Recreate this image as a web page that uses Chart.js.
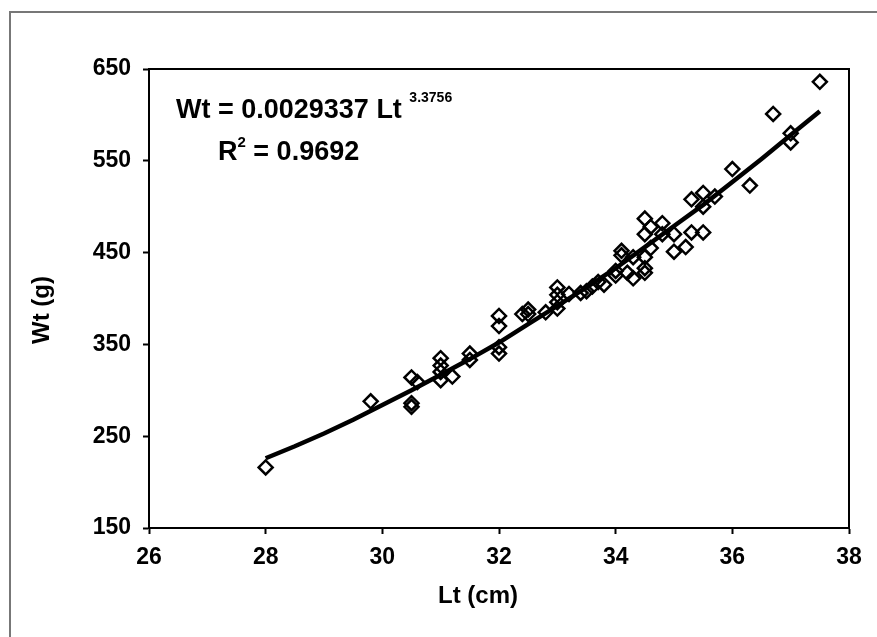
<!DOCTYPE html>
<html>
<head>
<meta charset="utf-8">
<script src="https://cdn.jsdelivr.net/npm/chart.js@4/dist/chart.umd.min.js"></script>
<style>
    html, body { margin: 0; padding: 0; background: #fff; }
    #wrap { position: relative; width: 877px; height: 637px; overflow: hidden; }
    #frame { position: absolute; left: 9px; top: 11px; width: 900px; height: 700px;
             border-left: 2px solid #777; border-top: 2px solid #777; }
    canvas { position: absolute; left: 0; top: 0; }
</style>
</head>
<body>
<div id="wrap">
    <div id="frame"></div>
    <canvas id="lwChart" width="877" height="637"></canvas>
</div>
<script>
// Observed length (cm) and weight (g)
const ltValues = [28.0, 29.8, 30.5, 30.5, 30.5, 30.6, 31.0, 31.0, 31.0, 31.0, 31.2,
    31.5, 31.5, 32.0, 32.0, 32.0, 32.0, 32.4, 32.5, 32.5, 32.8, 33.0, 33.0, 33.0, 33.0,
    33.2, 33.4, 33.5, 33.6, 33.7, 33.8, 34.0, 34.0, 34.1, 34.1, 34.2, 34.3, 34.3,
    34.5, 34.5, 34.5, 34.5, 34.5, 34.6, 34.6, 34.8, 34.8, 35.0, 35.0, 35.2, 35.3, 35.3,
    35.5, 35.5, 35.5, 35.7, 36.0, 36.3, 36.7, 37.0, 37.0, 37.5];
const wtValues = [216, 288, 314, 286, 282, 309, 335, 327, 320, 311, 315,
    340, 333, 381, 370, 347, 340, 383, 388, 383, 385, 412, 404, 396, 389,
    405, 406, 408, 413, 418, 415, 430, 425, 452, 447, 428, 445, 422,
    487, 470, 445, 433, 428, 478, 455, 482, 470, 470, 451, 456, 508, 472,
    515, 500, 472, 511, 541, 523, 601, 580, 570, 636];

// Power trend line Wt = 0.0029337 Lt^3.3756
const trendLt = [28, 28.5, 29, 29.5, 30, 30.5, 31, 31.5, 32, 32.5, 33, 33.5, 34, 34.5,
    35, 35.5, 36, 36.5, 37, 37.5];
const trendWt = [226, 239, 253, 268, 284, 300, 317, 334, 352, 372, 392, 412, 433, 456,
    479, 502, 527, 552, 578, 604];

const xMin = 26, xMax = 38, xStep = 2;
const yMin = 150, yMax = 650, yStep = 100;

const FONT = '"Liberation Sans", Arial, sans-serif';

// Titles, equation and plot box
const decorPlugin = {
    id: 'decor',
    beforeDatasetsDraw(chart) {
        const ctx = chart.ctx;
        const a = chart.chartArea;
        ctx.save();
        ctx.strokeStyle = '#000';
        ctx.lineWidth = 2;
        ctx.strokeRect(a.left, a.top, a.right - a.left, a.bottom - a.top);
        ctx.restore();
    },
    afterDraw(chart) {
        const ctx = chart.ctx;
        ctx.save();
        ctx.fillStyle = '#000';
        ctx.textBaseline = 'alphabetic';

        // x axis title
        ctx.font = 'bold 24px ' + FONT;
        ctx.textAlign = 'center';
        ctx.fillText('Lt (cm)', 478, 603);

        // y axis title
        ctx.save();
        ctx.translate(49, 310);
        ctx.rotate(-Math.PI / 2);
        ctx.fillText('Wt (g)', 0, 0);
        ctx.restore();

        // equation
        ctx.textAlign = 'left';
        ctx.font = 'bold 27px ' + FONT;
        const eq = 'Wt = 0.0029337 Lt ';
        ctx.fillText(eq, 176, 118);
        const w = ctx.measureText(eq).width;
        ctx.font = 'bold 14px ' + FONT;
        ctx.fillText('3.3756', 176 + w, 102);

        ctx.font = 'bold 27px ' + FONT;
        ctx.fillText('R', 218, 160);
        const rw = ctx.measureText('R').width;
        ctx.font = 'bold 15px ' + FONT;
        ctx.fillText('2', 218 + rw, 147);
        const sw = ctx.measureText('2').width;
        ctx.font = 'bold 27px ' + FONT;
        ctx.fillText(' = 0.9692', 218 + rw + sw, 160);
        ctx.restore();
    }
};

const ctx = document.getElementById('lwChart');
new Chart(ctx, {
    data: {
        datasets: [{
            type: 'line',
            label: 'Power fit',
            data: trendLt.map((x, i) => ({ x: x, y: trendWt[i] })),
            borderColor: '#000',
            borderWidth: 4.5,
            pointRadius: 0,
            tension: 0,
            fill: false,
            order: 0
        }, {
            type: 'scatter',
            label: 'Observed',
            data: ltValues.map((x, i) => ({ x: x, y: wtValues[i] })),
            pointStyle: 'rectRot',
            pointRadius: 7,
            pointBorderWidth: 2.5,
            pointBorderColor: '#000',
            pointBackgroundColor: 'rgba(0,0,0,0)',
            order: 1
        }]
    },
    options: {
        responsive: false,
        animation: false,
        layout: {
            padding: { left: 0, top: 69, right: 28, bottom: 0 }
        },
        plugins: {
            legend: { display: false },
            tooltip: { enabled: false }
        },
        scales: {
            x: {
                type: 'linear',
                min: xMin,
                max: xMax,
                afterFit: function(scale) { scale.height = 109; },
                ticks: {
                    stepSize: xStep,
                    padding: 10,
                    color: '#000',
                    font: { family: FONT, size: 23, weight: 'bold' }
                },
                grid: {
                    drawOnChartArea: false,
                    tickLength: 6,
                    tickWidth: 2,
                    tickColor: '#000'
                },
                border: { color: '#000', width: 2 }
            },
            y: {
                type: 'linear',
                min: yMin,
                max: yMax,
                afterFit: function(scale) { scale.width = 149; },
                ticks: {
                    stepSize: yStep,
                    padding: 12,
                    color: '#000',
                    font: { family: FONT, size: 23, weight: 'bold' }
                },
                grid: {
                    drawOnChartArea: false,
                    tickLength: 6,
                    tickWidth: 2,
                    tickColor: '#000'
                },
                border: { color: '#000', width: 2 }
            }
        }
    },
    plugins: [decorPlugin]
});
</script>
</body>
</html>
